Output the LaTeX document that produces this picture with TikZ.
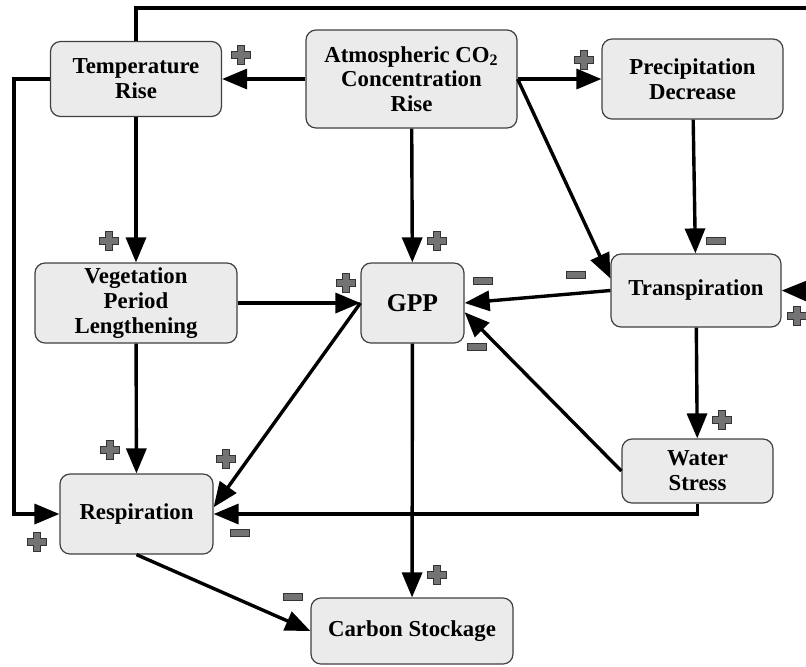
\documentclass[tikz,border=0pt]{standalone}
\usepackage{fontspec}
\setmainfont{Liberation Serif}
\usetikzlibrary{arrows.meta, shapes.misc}

\tikzset{
	box/.style={draw=black!75, line width=0.6pt, fill=black!8, rounded corners=5pt, align=center, inner sep=0pt, font=\fontsize{11.4}{12.4}\selectfont\bfseries},
	link/.style={line width=1.7pt, -{Triangle[length=12.5pt,width=10pt]}},
	plain/.style={line width=1.7pt},
	sign/.style={fill=black!55, draw=black!80, line width=0.45pt},
	plussign/.pic={\filldraw[sign] (-3.3,-9.5) -- (3.3,-9.5) -- (3.3,-3.3) -- (9.5,-3.3) -- (9.5,3.3) -- (3.3,3.3) -- (3.3,9.5) -- (-3.3,9.5) -- (-3.3,3.3) -- (-9.5,3.3) -- (-9.5,-3.3) -- (-3.3,-3.3) -- cycle;},
	minussign/.pic={\filldraw[sign] (-9.5,-3.2) rectangle (9.5,3.2);}
}

\begin{document}
\begin{tikzpicture}[x=0.5pt, y=-0.5pt]
	\useasboundingbox (0,0) rectangle (806,666);
	% boxes
	\node[box, minimum width=85.5pt, minimum height=37.5pt] (temp) at (136,79) {Temperature\\Rise};
	\node[box, minimum width=105.5pt, minimum height=49pt] (co2) at (411.5,79) {Atmospheric CO$_\mathbf{2}$\\Concentration\\Rise};
	\node[box, minimum width=90.5pt, minimum height=40pt] (precip) at (692.5,79) {Precipitation\\Decrease};
	\node[box, minimum width=101pt, minimum height=40pt] (veg) at (136,303) {Vegetation\\Period\\Lengthening};
	\node[box, minimum width=51.5pt, minimum height=40pt, font=\fontsize{12.8}{14}\selectfont\bfseries] (gpp) at (412.5,303) {GPP};
	\node[box, minimum width=85pt, minimum height=36.5pt] (transp) at (696,290.5) {Transpiration};
	\node[box, minimum width=75.5pt, minimum height=32pt] (water) at (697.5,471) {Water\\Stress};
	\node[box, minimum width=76.5pt, minimum height=40pt] (resp) at (136.5,514) {Respiration};
	\node[box, minimum width=101pt, minimum height=33pt] (carbon) at (412,631) {Carbon Stockage};
	\coordinate (topedge) at (806,8);
	\coordinate (rightedge) at (806,291);

	% links
	\draw[link] (co2) -- (temp);
	\draw[link] (co2) -- (precip);
	\draw[link] (co2) -- (gpp);
	\draw[link] (co2.east) -- (transp.172);
	\draw[link] (precip) -- (transp);
	\draw[link] (temp) -- (veg);
	\draw[link] (veg) -- (gpp);
	\draw[link] (transp.west) -- (gpp.east);
	\draw[link] (water.west) -- (gpp.-10);
	\draw[link] (gpp.west) -- (resp.5);
	\draw[link] (veg) -- (resp);
	\draw[link] (transp) -- (water);
	\draw[link] (water.south) |- (resp.east);
	\draw[link] (gpp) -- (carbon);
	\draw[link] (resp.south) -- (carbon.west);
	\draw[link] (temp.west) -- ++(-36,0) |- (resp.west);
	\draw[plain] (temp.north) |- (topedge);
	\draw[link] (rightedge) -- (transp.east);

	% signs
	\pic at (241,55) {plussign};
	\pic at (584,60) {plussign};
	\pic at (109,241) {plussign};
	\pic at (437,241) {plussign};
	\pic at (346,283) {plussign};
	\pic at (797,316) {plussign};
	\pic at (722,420) {plussign};
	\pic at (110,450) {plussign};
	\pic at (226,459) {plussign};
	\pic at (37,542) {plussign};
	\pic at (437,575) {plussign};
	\pic at (716,241) {minussign};
	\pic at (576,275) {minussign};
	\pic at (483,281) {minussign};
	\pic at (477,347) {minussign};
	\pic at (240,533) {minussign};
	\pic at (293,597) {minussign};
\end{tikzpicture}
\end{document}
